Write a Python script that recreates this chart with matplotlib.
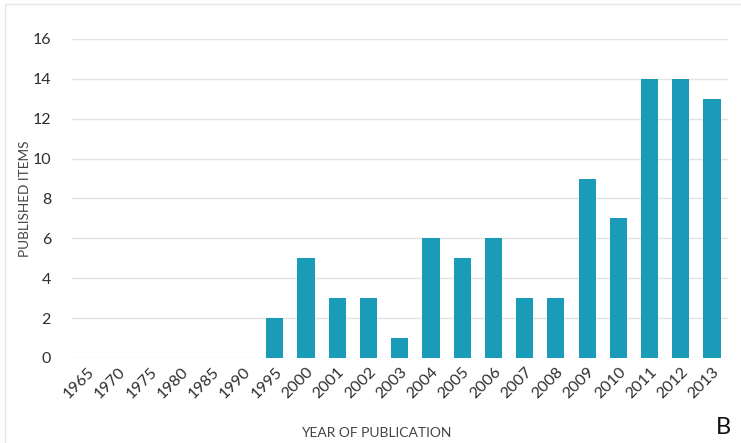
import matplotlib
matplotlib.use("Agg")
import matplotlib.pyplot as plt
from matplotlib.patches import Rectangle

years = ["1965", "1970", "1975", "1980", "1985", "1990", "1995", "2000", "2001",
         "2002", "2003", "2004", "2005", "2006", "2007", "2008", "2009", "2010",
         "2011", "2012", "2013"]
items = [0, 0, 0, 0, 0, 0, 2, 5, 3, 3, 1, 6, 5, 6, 3, 3, 9, 7, 14, 14, 13]
yticks = [0, 2, 4, 6, 8, 10, 12, 14, 16]

plt.rcParams['font.family'] = ['Lato', 'DejaVu Sans']

fig = plt.figure(figsize=(7.41, 4.43), dpi=100)
ax = fig.add_axes([0.097, 0.192, 0.885, 0.72])

x = range(len(years))
ax.bar(x, items, width=0.55, color="#1a9bb8", zorder=3)
ax.set_xlim(-0.5, len(years) - 0.5)
ax.set_ylim(0, 16)
ax.set_yticks(yticks)
ax.set_xticks(list(x))
ax.set_xticklabels(years, rotation=45, ha="right", rotation_mode="anchor")
ax.tick_params(axis="both", length=0, colors="#2e2e2e", labelsize=11.5)
ax.tick_params(axis="x", pad=5)
ax.tick_params(axis="y", pad=15)
ax.grid(axis="y", color="#e3e3e3", linewidth=1, zorder=0)
for s in ax.spines.values():
    s.set_visible(False)

ax.set_ylabel("PUBLISHED ITEMS", color="#444444", fontsize=9.8, labelpad=1)
fig.text(0.508, 0.01, "YEAR OF PUBLICATION", color="#444444", fontsize=10,
         ha="center", va="bottom")
fig.text(0.986, 0.012, "B", color="#111111", fontsize=17, ha="right", va="bottom")

fig.patches.append(Rectangle((5 / 741, -0.1), 1.1, 1 - 4 / 443 + 0.1,
                             transform=fig.transFigure, fill=False,
                             edgecolor="#e6e6e6", linewidth=1))

fig.savefig("out.png", dpi=100)
